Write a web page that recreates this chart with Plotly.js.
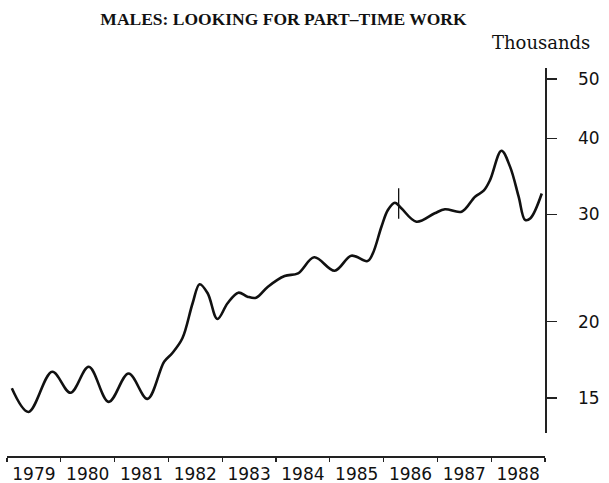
<!DOCTYPE html>
<html>
<head>
<meta charset="utf-8">
<script src="https://cdn.plot.ly/plotly-3.0.1.min.js"></script>
<style>html,body{margin:0;padding:0;background:#fff;}#chart{width:609px;height:483px;}</style>
</head>
<body>
<div id="chart"></div>
<script>
// Series: males looking for part-time work (thousands)
const periods = [1979.09,1979.40,1979.84,1980.18,1980.52,1980.89,1981.26,1981.61,1981.92,1982.07,
  1982.26,1982.45,1982.58,1982.73,1982.91,1983.10,1983.30,1983.47,1983.63,1983.85,
  1984.16,1984.41,1984.71,1985.09,1985.40,1985.70,1985.80,1985.96,1986.08,1986.21,
  1986.33,1986.61,1986.95,1987.14,1987.45,1987.70,1987.86,1987.98,1988.19,1988.35,
  1988.51,1988.63,1988.73,1988.94];
const thousands = [15.56,14.23,16.56,15.30,16.88,14.78,16.45,14.95,17.20,17.76,
  18.79,21.45,23.04,22.27,20.21,21.45,22.32,21.99,21.90,22.83,
  23.77,24.01,25.51,24.25,25.66,25.15,25.89,28.63,30.50,31.35,
  30.69,29.18,30.12,30.58,30.30,32.07,32.80,34.16,38.14,35.92,
  32.07,29.37,29.56,32.45];
// Series break marker
const breakX = [1986.28, 1986.28];
const breakY = [29.5, 33.1];

const years = ['1979','1980','1981','1982','1983','1984','1985','1986','1987','1988'];
const yearStarts = [1979,1980,1981,1982,1983,1984,1985,1986,1987,1988,1989];
const yTicks = [15, 20, 30, 40, 50];
const yTickText = ['15','20','30','40','50'];

const yearMids = years.map(y => Number(y) + 0.5);

// plot-area geometry (pixels)
const W = 609 - 7 - 20;          // plot area width
const xEnd = (545 - 7) / W;      // right end of x domain (y axis line)
const labelPos = (577 - 7) / W;  // where y tick labels sit

const traces = [
  {x: periods, y: thousands, type: 'scatter', mode: 'lines',
   line: {color: '#111', width: 2.6, shape: 'spline', smoothing: 1.0}, hoverinfo: 'skip'},
  {x: breakX, y: breakY, type: 'scatter', mode: 'lines',
   line: {color: '#111', width: 1.3}, hoverinfo: 'skip'},
  {x: [], y: [], xaxis: 'x2', yaxis: 'y2', type: 'scatter', mode: 'lines', hoverinfo: 'skip'}
];

const yRange = [1.1187, 1.7170];
const yDomain = [0.0593, 1];

const layout = {
  width: 609, height: 483,
  margin: {l: 7, r: 20, t: 68, b: 27},
  paper_bgcolor: '#fff', plot_bgcolor: 'rgba(0,0,0,0)',
  showlegend: false,
  title: {text: '<b>MALES: LOOKING FOR PART\u2013TIME WORK</b>',
    x: 283.5/609, xanchor: 'center', y: 1 - 19/483, yanchor: 'middle',
    font: {family: 'Liberation Serif', size: 17.5, color: '#111'}},
  xaxis: {range: [1979, 1989], domain: [0, xEnd], anchor: 'free', position: 0,
    showline: true, linewidth: 1.5, linecolor: '#222', mirror: false,
    ticks: 'outside', ticklen: 4, tickwidth: 1.2, tickcolor: '#222',
    tickvals: yearStarts, ticktext: yearStarts.map(() => ''),
    showgrid: false, zeroline: false, fixedrange: true},
  xaxis2: {range: [1979, 1989], domain: [0, xEnd], overlaying: 'x', anchor: 'free', position: 0,
    showline: false, ticks: 'outside', ticklen: 3, tickcolor: 'rgba(0,0,0,0)',
    tickvals: yearMids, ticktext: years,
    tickfont: {family: 'DejaVu Sans', size: 17, color: '#111'},
    showgrid: false, zeroline: false, fixedrange: true},
  yaxis: {type: 'log', range: yRange, domain: yDomain,
    side: 'right', anchor: 'free', position: xEnd,
    showline: true, linewidth: 1.5, linecolor: '#222',
    ticks: 'outside', ticklen: 10, tickwidth: 1.2, tickcolor: '#222',
    tickvals: yTicks, showticklabels: false,
    showgrid: false, zeroline: false, fixedrange: true},
  yaxis2: {type: 'log', range: yRange, domain: yDomain, overlaying: 'y',
    side: 'right', anchor: 'free', position: labelPos,
    showline: false, ticks: '',
    tickvals: yTicks, ticktext: yTickText,
    tickfont: {family: 'DejaVu Sans', size: 17, color: '#111'},
    showgrid: false, zeroline: false, fixedrange: true},
  annotations: [{text: 'Thousands', xref: 'paper', yref: 'paper',
    x: (540.5 - 7)/W, y: (456 - 42)/388, xanchor: 'center', yanchor: 'middle',
    showarrow: false, font: {family: 'DejaVu Serif', size: 18, color: '#111'}}]
};

Plotly.newPlot('chart', traces, layout, {displayModeBar: false, staticPlot: true});
</script>
</body>
</html>
